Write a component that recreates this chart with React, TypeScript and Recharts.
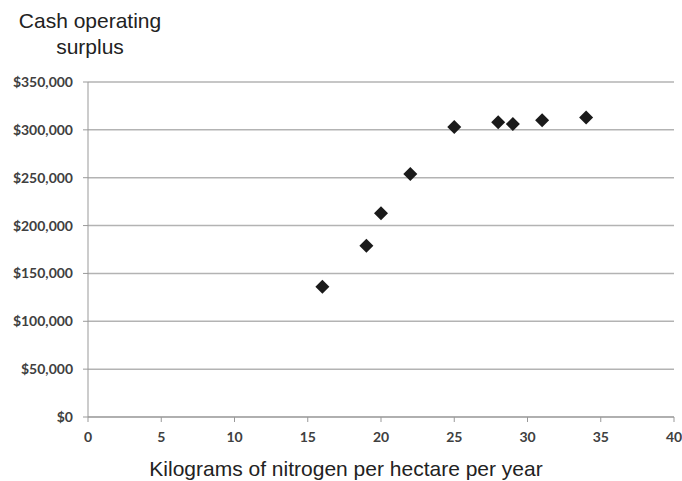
import React from 'react';
import { ScatterChart, Scatter, XAxis, YAxis, CartesianGrid } from 'recharts';

const nitrogen = [16, 19, 20, 22, 25, 28, 29, 31, 34];
const surplus = [136000, 179000, 213000, 254000, 303000, 308000, 306000, 310000, 313000];
const xTicks = [0, 5, 10, 15, 20, 25, 30, 35, 40];
const yTicks = [0, 50000, 100000, 150000, 200000, 250000, 300000, 350000];

const points = nitrogen.map((n, i) => ({ x: n, y: surplus[i] }));

const tickStyle = { fontFamily: 'Lato', fontWeight: 700, fontSize: 14, fill: '#404040' };

const Diamond = (props: any) => {
    const { cx, cy } = props;
    const r = 7;
    return (
        <polygon
            points={`${cx},${cy - r} ${cx + r},${cy} ${cx},${cy + r} ${cx - r},${cy}`}
            fill="#1a1a1a"
        />
    );
};

const labelStyle: React.CSSProperties = {
    position: 'absolute',
    fontFamily: '"Liberation Sans", Arial, sans-serif',
    fontSize: 21,
    lineHeight: '26px',
    color: '#222',
    textAlign: 'center',
    whiteSpace: 'nowrap',
};

const App: React.FC = () => {
    return (
        <div style={{ position: 'absolute', left: 0, top: 0, width: 682, height: 481, background: '#fff' }}>
            <div style={{ ...labelStyle, left: 0, top: 8, width: 180 }}>
                Cash operating
                <br />
                surplus
            </div>
            <ScatterChart width={682} height={481} margin={{ top: 82, right: 8, bottom: 34, left: 0 }}>
                <CartesianGrid vertical={false} stroke="#b3b3b3" strokeWidth={1.5} />
                <XAxis
                    type="number"
                    dataKey="x"
                    domain={[0, 40]}
                    ticks={xTicks}
                    height={30}
                    tick={tickStyle}
                    tickSize={5}
                    tickMargin={10}
                    stroke="#999"
                />
                <YAxis
                    type="number"
                    dataKey="y"
                    domain={[0, 350000]}
                    ticks={yTicks}
                    width={88}
                    tick={tickStyle}
                    tickSize={5}
                    tickMargin={10}
                    stroke="#999"
                    tickFormatter={(v: number) => `$${v.toLocaleString('en-US')}`}
                />
                <Scatter data={points} shape={Diamond} isAnimationActive={false} />
            </ScatterChart>
            <div style={{ ...labelStyle, left: 146, top: 456, width: 400 }}>
                Kilograms of nitrogen per hectare per year
            </div>
        </div>
    );
};

export default App;
